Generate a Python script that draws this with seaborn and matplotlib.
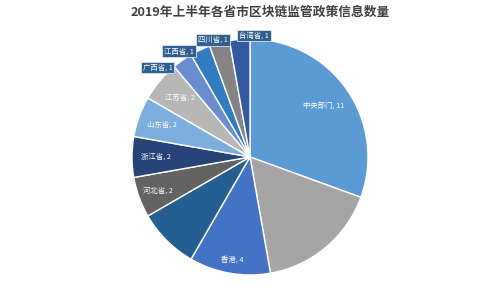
import numpy as np
import matplotlib
matplotlib.use("Agg")
import matplotlib.pyplot as plt
import seaborn as sns

title = "2019年上半年各省市区块链监管政策信息数量"
regions = ["中央部门", "北京市", "香港", "广东省", "河北省", "浙江省",
           "山东省", "江苏省", "广西省", "江西省", "四川省", "台湾省"]
counts = [11, 6, 4, 3, 2, 2, 2, 2, 1, 1, 1, 1]
colors = ["#5B9BD5", "#A5A5A5", "#4472C4", "#255E91", "#636363", "#264478",
          "#7CAFDD", "#B7B7B7", "#698ED0", "#327DC2", "#848484", "#335AA1"]
show_inside = [True, False, True, False, True, True, True, True, False, False, False, False]
inside_dist = [0.76, 0.8, 0.88, 0.8, 0.83, 0.8, 0.79, 0.78, 0, 0, 0, 0]
# callout placement (style): angular shift in degrees and radial distance
callout_shift = [0, 0, 0, 0, 0, 0, 0, 0, 11, 9, 2.5, -7]
callout_dist = [0, 0, 0, 0, 0, 0, 0, 0, 1.09, 1.08, 1.04, 1.03]

sns.set_theme(style="white")
plt.rcParams["font.family"] = ["Noto Sans CJK SC", "DejaVu Sans"]

fig = plt.figure(figsize=(5, 3), dpi=100)
fig.patch.set_facecolor("white")
ax = fig.add_axes([0.264, 0.0833, 0.472, 0.787])
wedges, _ = ax.pie(counts, colors=colors, startangle=90, counterclock=False,
                   radius=1, wedgeprops=dict(edgecolor="white", linewidth=1.0))
ax.set_xlim(-1, 1)
ax.set_ylim(-1, 1)
ax.set_aspect("equal")
ax.axis("off")

for i, w in enumerate(wedges):
    mid = np.deg2rad((w.theta1 + w.theta2) / 2)
    label = f"{regions[i]}, {counts[i]}"
    if show_inside[i]:
        d = inside_dist[i]
        ax.text(d * np.cos(mid), d * np.sin(mid), label, color="white",
                fontsize=5.3, ha="center", va="center")
    elif callout_dist[i] > 0:
        ang = mid + np.deg2rad(callout_shift[i])
        d = callout_dist[i]
        ax.text(d * np.cos(ang), d * np.sin(ang), label, color="white",
                fontsize=5.3, ha="center", va="center",
                bbox=dict(boxstyle="square,pad=0.25", facecolor="#2F5F8F",
                          edgecolor="#DDE6F0", linewidth=0.6))

fig.text(0.52, 0.958, title, ha="center", va="center", fontsize=9.2,
         color="#404040", fontweight="bold")

fig.savefig("out.png", dpi=100, facecolor="white")
